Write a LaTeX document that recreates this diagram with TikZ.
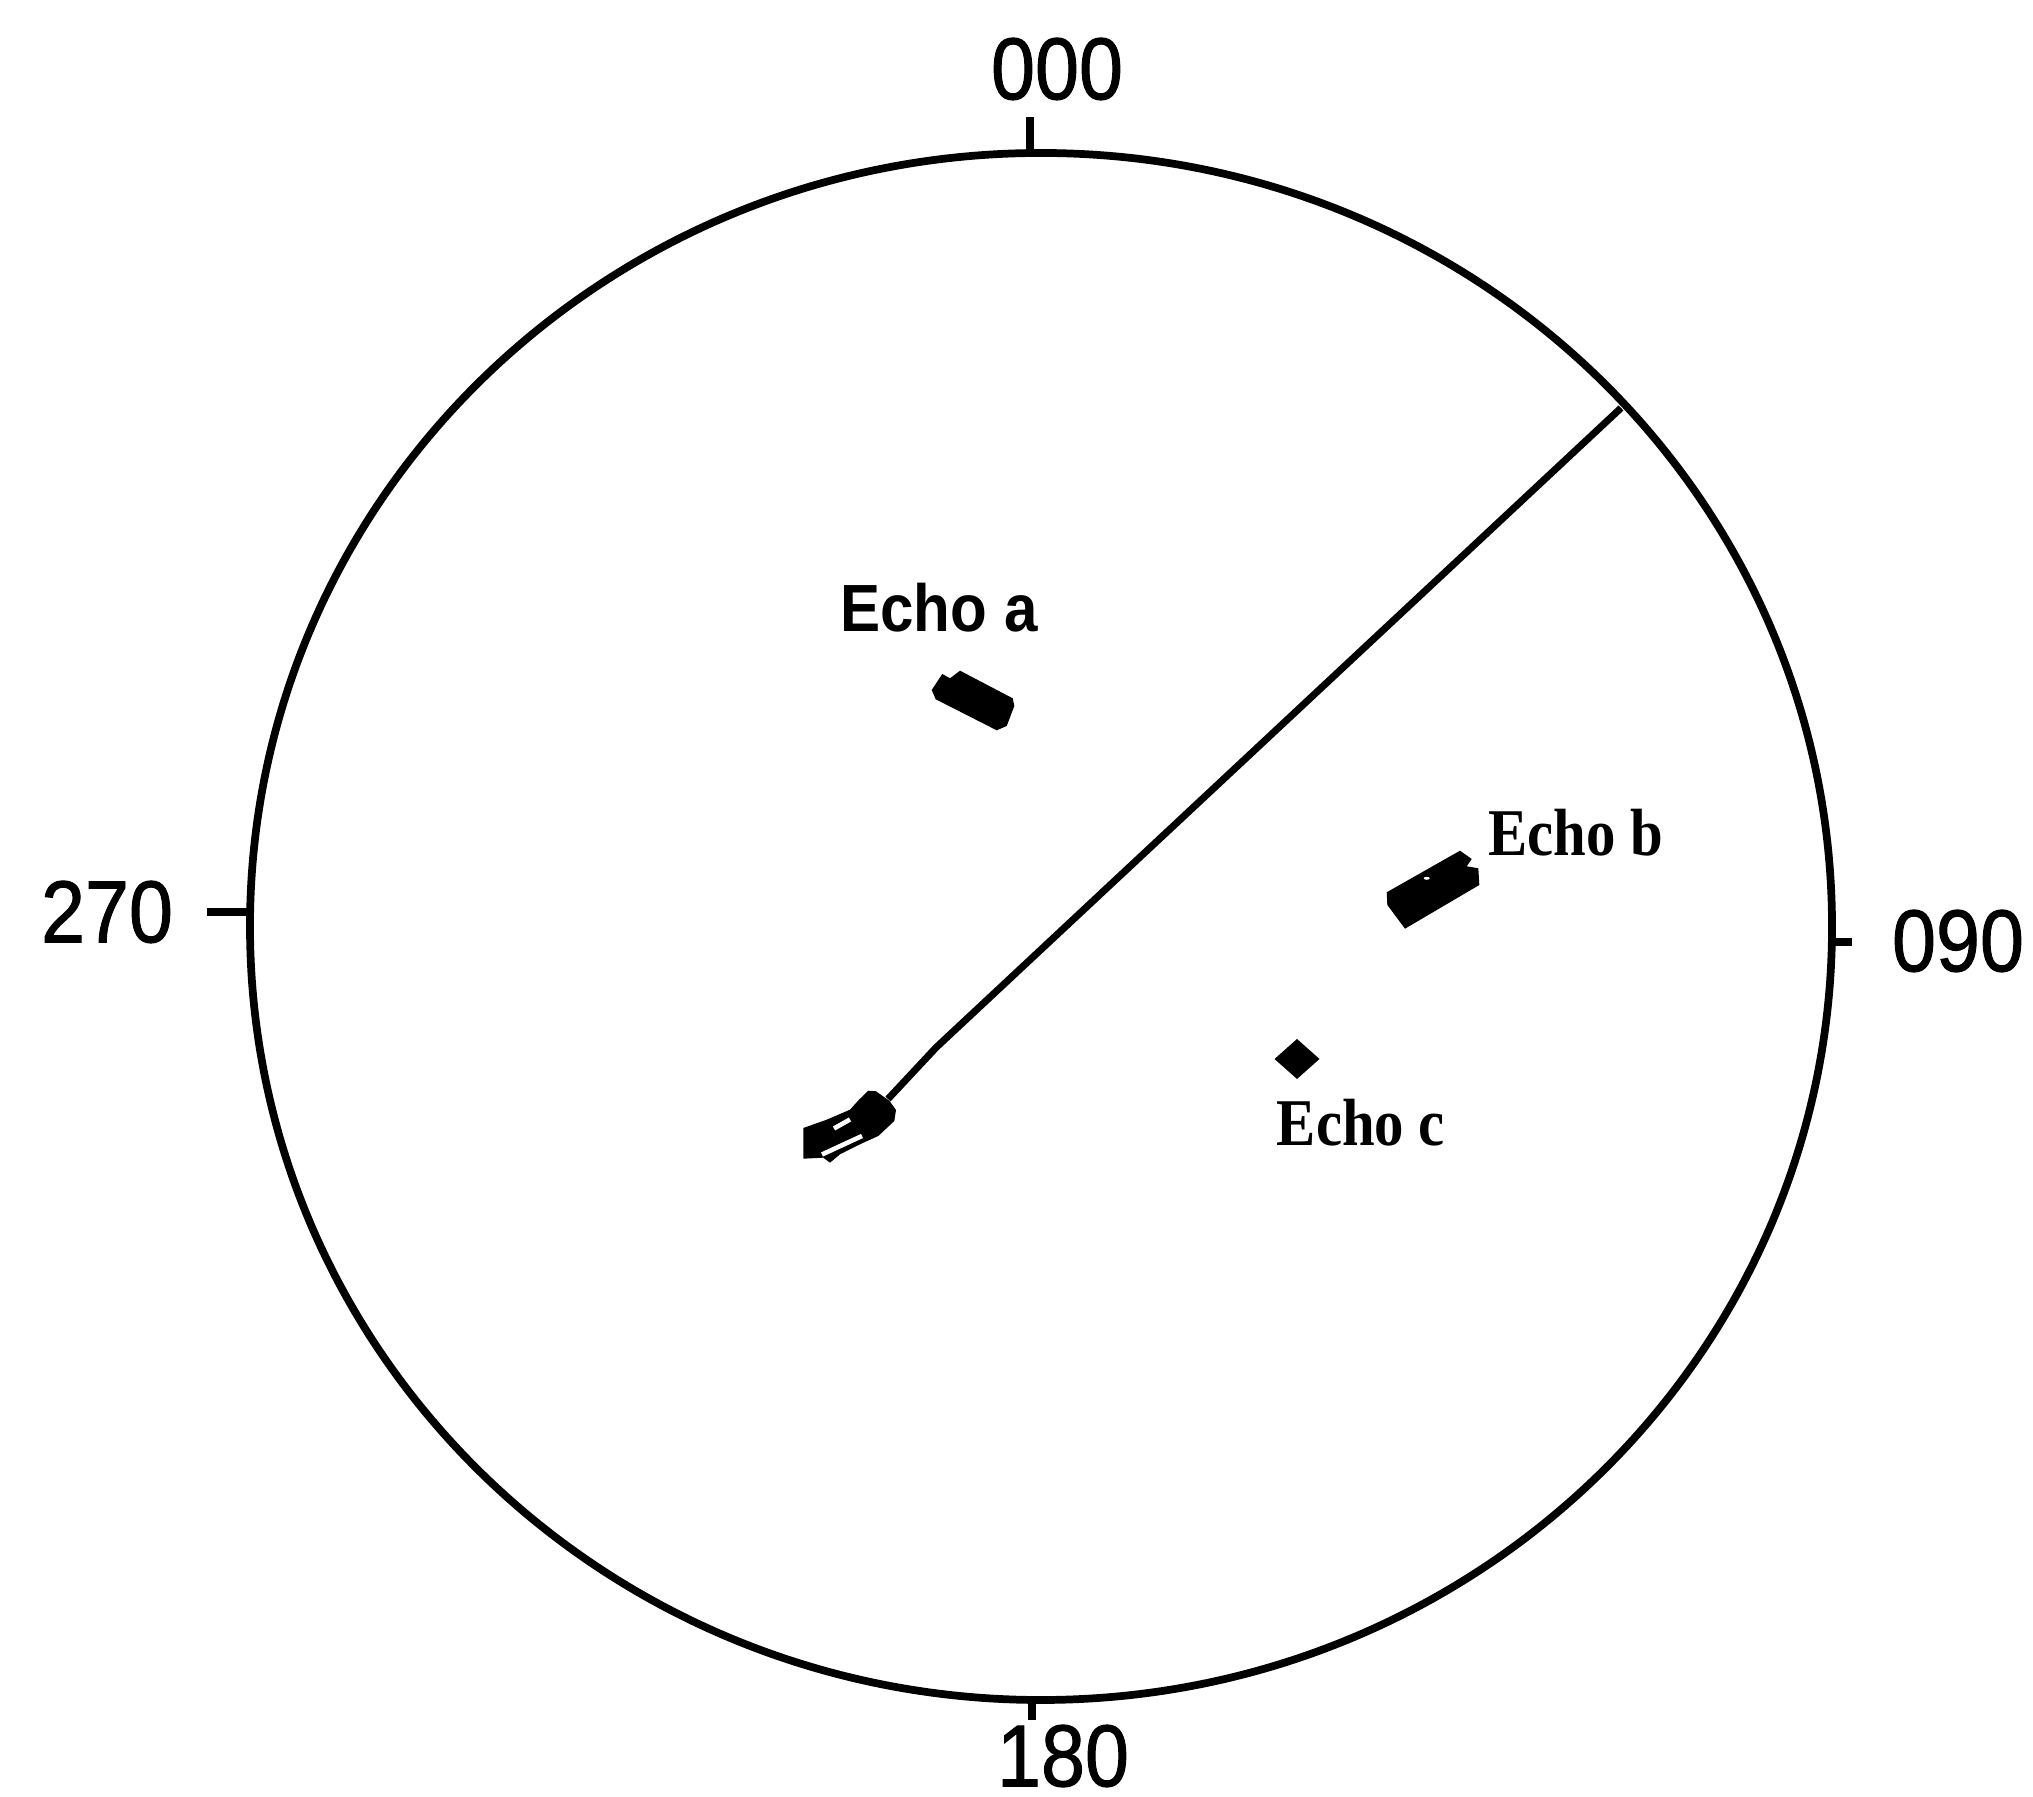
\documentclass[tikz,border=0pt]{standalone}
\usepackage{fontspec}
\setmainfont{Liberation Serif}
\setsansfont{Liberation Sans}
\newfontfamily\brgfont[FakeBold=1.2]{Liberation Sans}
\newfontfamily\echofont{Liberation Sans}
\usepackage{graphicx}
\usetikzlibrary{positioning}
\newcommand{\brgtext}[1]{\scalebox{0.9}[1]{\fontsize{25}{30}\selectfont\brgfont #1}}
\newcommand{\echoA}[1]{\scalebox{0.9}[1]{\fontsize{19}{22}\selectfont\echofont\bfseries #1}}
\newcommand{\echoBC}[1]{\scalebox{0.88}[1]{\fontsize{19}{22}\selectfont\rmfamily\bfseries #1}}
\tikzset{
  rim/.style={line width=2.2pt},
  tickline/.style={line width=2.2pt},
  track/.style={line width=2pt},
  brg/.style={inner sep=0pt},
  echolbl/.style={inner sep=0pt},
  slit/.style={white,line width=1.3pt}
}

\begin{document}
\begin{tikzpicture}
\useasboundingbox (0,0) rectangle (20.33,17.96);
% range ring
\coordinate (ctr) at (10.41,8.695);
\draw[rim] (ctr) ellipse [x radius=7.91, y radius=7.735];
% bearing ticks
\draw[tickline] (10.30,16.42) -- (10.30,16.79);
\draw[tickline] (2.50,8.84) -- (2.07,8.84);
\draw[tickline] (18.31,8.54) -- (18.52,8.54);
\draw[tickline] (10.32,0.97) -- (10.32,0.76);
\node[brg] (b000) at (10.57,17.27) {\brgtext{000}};
\node[brg] (b270) at (1.07,8.84) {\brgtext{270}};
\node[brg] (b090) at (19.58,8.55) {\brgtext{090}};
\node[brg] (b180) at (10.63,0.40) {\brgtext{180}};
% own ship heading line
\coordinate (own) at (8.88,6.97);
\coordinate (bend) at (9.36,7.484);
\coordinate (rimhit) at (16.21,13.88);
\draw[track] (own) -- (bend) -- (rimhit);
\fill (8.033,6.68) -- (8.267,6.763) -- (8.50,6.863) -- (8.59,6.963) -- (8.683,7.053)
  -- (8.76,7.047) -- (8.893,6.953) -- (8.96,6.86) -- (8.943,6.75) -- (8.783,6.60)
  -- (8.60,6.517) -- (8.40,6.417) -- (8.30,6.333) -- (8.233,6.383) -- (8.033,6.373) -- cycle;
\draw[slit] (8.34,6.675) -- (8.50,6.765);
\draw[slit] (8.22,6.415) -- (8.62,6.60);
% echoes
\fill (9.317,11.06) -- (9.423,11.22) -- (9.50,11.177) -- (9.60,11.253) -- (10.127,10.977)
  -- (10.143,10.90) -- (10.067,10.70) -- (9.967,10.657) -- (9.357,10.967) -- cycle;
\node[echolbl] (lblA) at (9.39,11.885) {\echoA{Echo a}};
\fill (13.867,9.037) -- (14.60,9.453) -- (14.717,9.37) -- (14.667,9.297) -- (14.783,9.277)
  -- (14.793,9.11) -- (14.05,8.673) -- (13.873,8.91) -- cycle;
\fill[white] (14.267,9.177) ellipse [x radius=0.03, y radius=0.015];
\node[echolbl] (lblB) at (15.76,9.63) {\echoBC{Echo b}};
\fill (12.745,7.37) -- (12.97,7.57) -- (13.195,7.37) -- (12.97,7.17) -- cycle;
\node[echolbl] (lblC) at (13.61,6.73) {\echoBC{Echo c}};
\end{tikzpicture}
\end{document}
